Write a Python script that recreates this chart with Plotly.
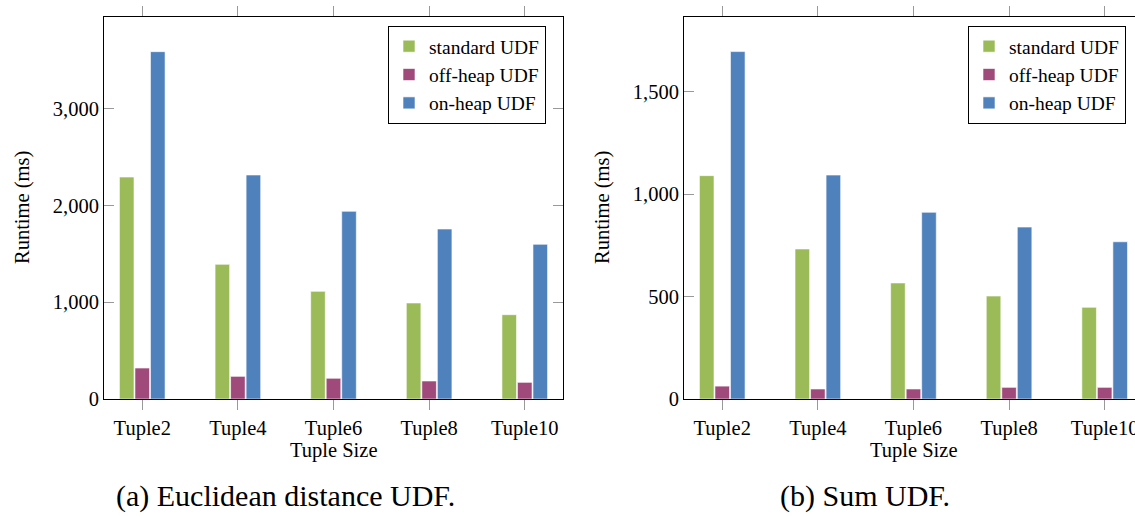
import plotly.graph_objects as go

categories = ["Tuple2", "Tuple4", "Tuple6", "Tuple8", "Tuple10"]
series_names = ["standard UDF", "off-heap UDF", "on-heap UDF"]

# (a) Euclidean distance UDF
euclid_standard = [2293, 1391, 1112, 992, 871]
euclid_offheap = [320, 234, 214, 186, 172]
euclid_onheap = [3588, 2314, 1939, 1756, 1598]

# (b) Sum UDF
sum_standard = [1091, 733, 567, 503, 448]
sum_offheap = [63, 49, 49, 57, 57]
sum_onheap = [1697, 1094, 912, 840, 768]

left_ticks = [0, 1000, 2000, 3000]
right_ticks = [0, 500, 1000, 1500]

colors = ["#9BBB59", "#A04A7B", "#4F81BD"]

W, H = 1135, 517
FONT = "Liberation Serif"
FS = 20.5
LFS = 19.5


def px(x):
    return x / W


def py(y):
    return 1 - y / H


fig = go.Figure()

left_series = [euclid_standard, euclid_offheap, euclid_onheap]
right_series = [sum_standard, sum_offheap, sum_onheap]

for name, vals, c in zip(series_names, left_series, colors):
    fig.add_trace(go.Bar(x=categories, y=vals, name=name, marker_color=c,
                         marker_line=dict(color="rgba(255,255,255,0.6)", width=1),
                         xaxis="x", yaxis="y", legend="legend"))
for name, vals, c in zip(series_names, right_series, colors):
    fig.add_trace(go.Bar(x=categories, y=vals, name=name, marker_color=c,
                         marker_line=dict(color="rgba(255,255,255,0.6)", width=1),
                         xaxis="x2", yaxis="y2", legend="legend2"))

xcommon = dict(type="category", showline=True, linecolor="black", automargin=False,
               linewidth=1, mirror="allticks", ticks="outside", ticklen=10,
               tickcolor="#999999", tickwidth=1, showgrid=False, zeroline=False,
               tickfont=dict(family=FONT, size=FS, color="black"))
ycommon = dict(showline=True, linecolor="black", linewidth=1, automargin=False,
               ticks="inside", ticklen=10, tickcolor="#999999", tickwidth=1,
               showgrid=False, zeroline=False, tickformat=",d",
               tickfont=dict(family=FONT, size=FS, color="black"))

ydom = [py(399), py(17)]
# right panel is clipped at the page edge: category step is 95.5 px
right_max = 4 + (1135 - 1104.7) / 95.5

legend_common = dict(xanchor="left", yanchor="top", bordercolor="black", borderwidth=1,
                     bgcolor="white", tracegroupgap=0,
                     font=dict(family=FONT, size=LFS, color="black"))

fig.update_layout(
    width=W, height=H,
    margin=dict(l=0, r=0, t=0, b=0, autoexpand=False),
    paper_bgcolor="white", plot_bgcolor="white",
    barmode="group", bargap=0.513, bargroupgap=0.06,
    font=dict(family=FONT, size=FS, color="black"),
    xaxis=dict(domain=[px(104), px(563)], anchor="y", range=[-0.4, 4.4], **xcommon),
    yaxis=dict(domain=ydom, anchor="x", range=[0, 3946], tickvals=left_ticks,
               mirror="allticks", **ycommon),
    xaxis2=dict(domain=[px(684), 1.0], anchor="y2", range=[-0.4, right_max], **xcommon),
    yaxis2=dict(domain=ydom, anchor="x2", range=[0, 1866], tickvals=right_ticks,
                mirror=False, **ycommon),
    legend=dict(x=px(388), y=py(26), **legend_common),
    legend2=dict(x=px(968), y=py(26), **legend_common),
    showlegend=True,
)

annos = [
    dict(text="Runtime (ms)", x=px(22), y=py(208), textangle=-90, size=FS),
    dict(text="Runtime (ms)", x=px(602), y=py(208), textangle=-90, size=FS),
    dict(text="Tuple Size", x=px(333.5), y=py(450), textangle=0, size=FS),
    dict(text="Tuple Size", x=px(913.5), y=py(450), textangle=0, size=FS),
    dict(text="(a) Euclidean distance UDF.", x=px(285.5), y=py(496), textangle=0, size=30),
    dict(text="(b) Sum UDF.", x=px(864.5), y=py(496), textangle=0, size=30),
]
for a in annos:
    fig.add_annotation(text=a["text"], x=a["x"], y=a["y"], xref="paper", yref="paper",
                       xanchor="center", yanchor="middle", showarrow=False,
                       textangle=a["textangle"],
                       font=dict(family=FONT, size=a["size"], color="black"))

post = ("document.body.style.margin='0';"
        "document.body.style.padding='0';"
        "document.documentElement.style.overflow='hidden';")

fig.write_html("out.html", config={"displayModeBar": False}, post_script=post)
